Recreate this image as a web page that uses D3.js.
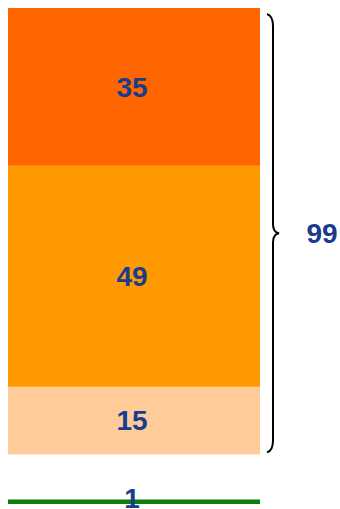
<!DOCTYPE html>
<html>
<head>
<meta charset="utf-8">
<script src="https://cdnjs.cloudflare.com/ajax/libs/d3/7.8.5/d3.min.js"></script>
<style>
	body { margin: 0; background: #fff; }
	.label { font-family: "Liberation Sans", Arial, sans-serif; font-weight: bold; font-size: 28px; fill: #1b3c8c; }
</style>
</head>
<body>
<svg class="chart"></svg>
<script>
// data
var segLabels = ["15", "49", "35"];
var segValues = [15, 49, 35];
var segColors = ["#ffcc99", "#ff9900", "#ff6600"];
var baseValue = 1;
var baseColor = "#0a7d0a";
var gapValue = 10;
var totalValue = d3.sum(segValues);

var width = 340;
var height = 509;

var svg = d3.select(".chart")
	.attr("width", width)
	.attr("height", height);

// scales
var x = d3.scaleBand()
	.domain(["bar"])
	.range([8, 260])
	.padding(0);
var y = d3.scaleLinear()
	.domain([0, baseValue + gapValue + totalValue])
	.range([504, 8]);

// build the stack on top of the gap
var stack = [];
var start = baseValue + gapValue;
for (var n = 0; n < segValues.length; n++) {
	stack.push({label: segLabels[n], y0: start, y1: start + segValues[n], color: segColors[n]});
	start += segValues[n];
}

var seg = svg.selectAll(".seg")
	.data(stack)
.enter().append("g")
	.attr("class", "seg");

seg.append("rect")
	.attr("x", x("bar"))
	.attr("y", function(d) { return y(d.y1); })
	.attr("width", x.bandwidth())
	.attr("height", function(d) { return y(d.y0) - y(d.y1); })
	.attr("fill", function(d) { return d.color; });

seg.append("text")
	.attr("class", "label")
	.attr("x", x("bar") + x.bandwidth()/2 - 2)
	.attr("y", function(d) { return (y(d.y0) + y(d.y1))/2; })
	.attr("dy", "0.35em")
	.attr("text-anchor", "middle")
	.text(function(d) { return d.label; });

// small bottom bar (the green line)
svg.append("rect")
	.attr("x", x("bar"))
	.attr("y", y(baseValue))
	.attr("width", x.bandwidth())
	.attr("height", y(0) - y(baseValue))
	.attr("fill", baseColor);

svg.append("text")
	.attr("class", "label")
	.attr("x", x("bar") + x.bandwidth()/2 - 2)
	.attr("y", (y(0) + y(baseValue))/2 - 4)
	.attr("dy", "0.35em")
	.attr("text-anchor", "middle")
	.text(baseValue);

// curly brace around the stack
var braceTop = y(baseValue + gapValue + totalValue) + 6;
var braceBot = y(baseValue + gapValue) - 2;
var braceMid = (braceTop + braceBot)/2;
var bx = 267;
var p = d3.path();
p.moveTo(bx, braceTop);
p.quadraticCurveTo(bx + 6, braceTop + 2, bx + 6, braceTop + 12);
p.lineTo(bx + 6, braceMid - 9);
p.quadraticCurveTo(bx + 6, braceMid - 1, bx + 12, braceMid);
p.quadraticCurveTo(bx + 6, braceMid + 1, bx + 6, braceMid + 9);
p.lineTo(bx + 6, braceBot - 12);
p.quadraticCurveTo(bx + 6, braceBot - 2, bx, braceBot);

svg.append("path")
	.attr("d", p.toString())
	.attr("fill", "none")
	.attr("stroke", "#000")
	.attr("stroke-width", 2);

svg.append("text")
	.attr("class", "label")
	.attr("x", 322)
	.attr("y", braceMid)
	.attr("dy", "0.35em")
	.attr("text-anchor", "middle")
	.text(totalValue);
</script>
</body>
</html>
